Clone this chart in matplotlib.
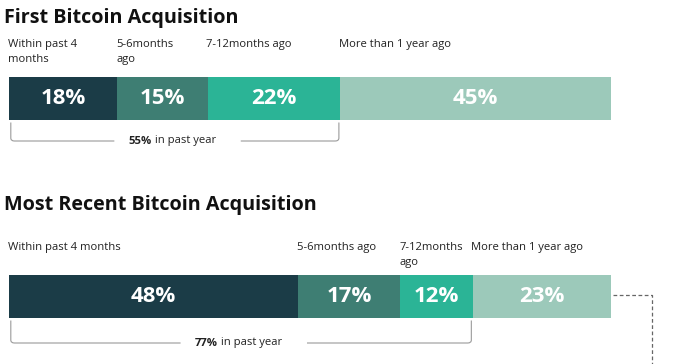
import matplotlib.pyplot as plt
from matplotlib.path import Path
from matplotlib.patches import PathPatch

plt.rcParams['font.family'] = ['Open Sans', 'DejaVu Sans']

# data
titles = ["First Bitcoin Acquisition", "Most Recent Bitcoin Acquisition"]
first_labels = ["Within past 4\nmonths", "5-6months\nago", "7-12months ago", "More than 1 year ago"]
first_values = [18, 15, 22, 45]
recent_labels = ["Within past 4 months", "5-6months ago", "7-12months\nago", "More than 1 year ago"]
recent_values = [48, 17, 12, 23]
past_year = [55, 77]

colors = ["#1b3c47", "#3e7e73", "#2bb496", "#9cc9ba"]

fig = plt.figure(figsize=(6.8, 3.64), dpi=100)
ax = fig.add_axes([0, 0, 1, 1])
# x in percent, y in pixels from the top
px = 6.02
ax.set_xlim(-9 / px, (680 - 9) / px)
ax.set_ylim(364, 0)
ax.axis('off')


def draw_bracket(y0, y1, x1, gap0, gap1):
    r = 0.6
    ry = 3
    x0 = 0.3
    verts = [(x0, y0), (x0, y1 - ry), (x0, y1), (x0 + r, y1), (gap0, y1)]
    codes = [Path.MOVETO, Path.LINETO, Path.CURVE3, Path.CURVE3, Path.LINETO]
    ax.add_patch(PathPatch(Path(verts, codes), fill=False, ec="#9a9a9a", lw=0.8))
    verts = [(gap1, y1), (x1 - r, y1), (x1, y1), (x1, y1 - ry), (x1, y0)]
    ax.add_patch(PathPatch(Path(verts, codes), fill=False, ec="#9a9a9a", lw=0.8))


def draw_block(title, title_y, labels, values, label_y, bar_y, total, br_y):
    ax.text(-5 / px, title_y, title, fontsize=14.2, fontweight='bold',
            color="#111111", va='center', ha='left')
    left = 0
    for lab, v, c in zip(labels, values, colors):
        ax.barh(bar_y, v, left=left, height=43, color=c, edgecolor='none')
        ax.text(left + v / 2, bar_y, f"{v}%", color='white', fontsize=16,
                fontweight='bold', ha='center', va='center')
        ax.text(left - 0.2, label_y, lab, fontsize=8.1, color="#222222",
                ha='left', va='top', linespacing=1.5)
        left += v
    mid = total / 2 + 0.5
    draw_bracket(bar_y + 24, br_y, total - 0.2, mid - 10.5, mid + 10.5)
    ax.text(mid - 4.3, br_y, f"{total}%", fontsize=8.1, fontweight='bold',
            color="#222222", ha='right', va='center')
    ax.text(mid - 4.3, br_y, " in past year", fontsize=8.1,
            color="#222222", ha='left', va='center')


draw_block(titles[0], 18, first_labels, first_values, 39, 98.5, past_year[0], 141)
draw_block(titles[1], 205, recent_labels, recent_values, 242, 296.5, past_year[1], 343)

# dashed connector from the last segment
ax.plot([100.4, 106.8, 106.8], [295, 295, 364], color="#666666",
        lw=0.9, ls=(0, (3, 2)))

fig.savefig("out.png", dpi=100)
